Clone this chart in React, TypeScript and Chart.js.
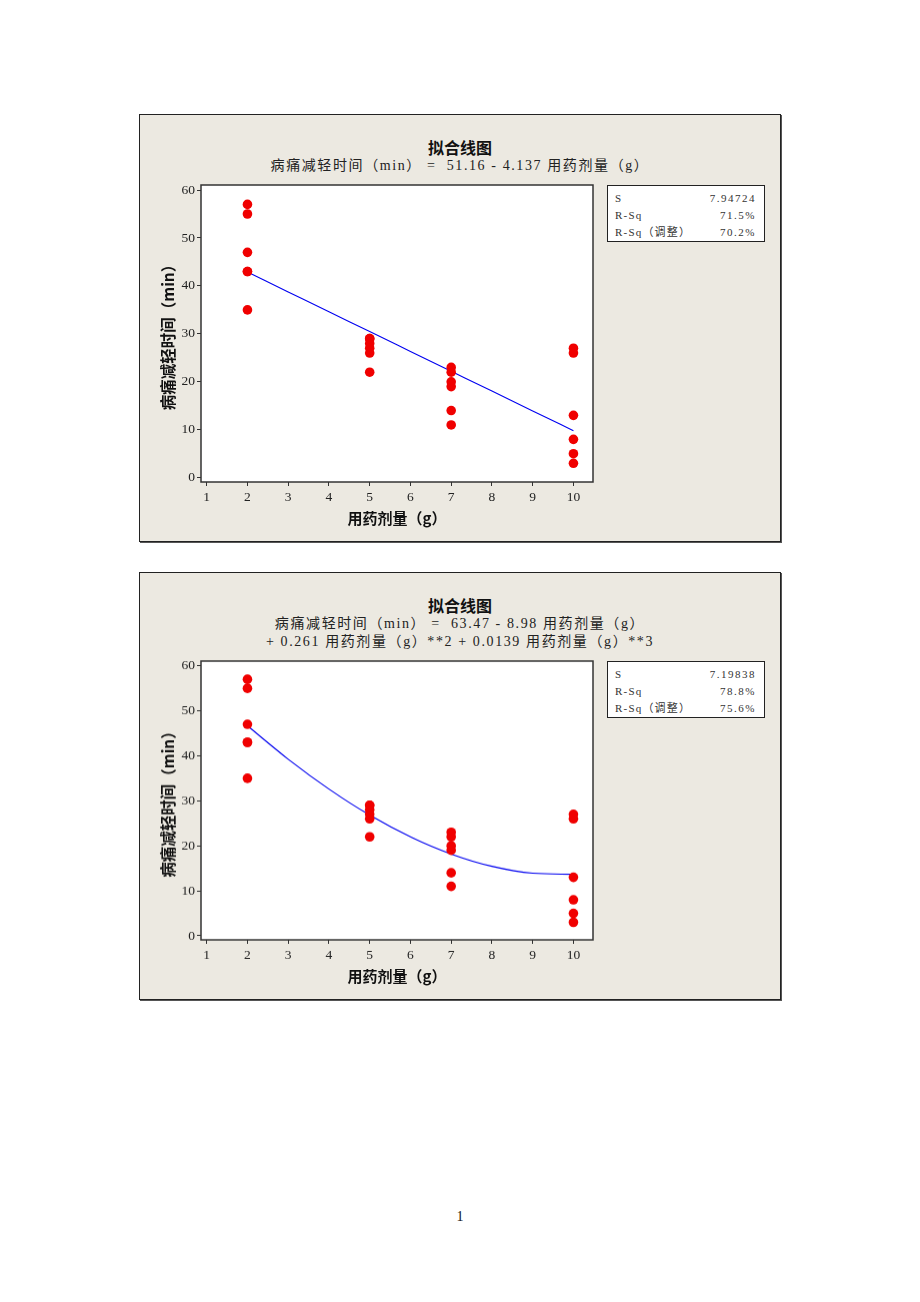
import React, { useEffect, useRef } from "react";
import { Chart, registerables } from "chart.js";

Chart.register(...registerables);

// ---- data ----
const doseLevels = [2, 2, 2, 2, 2, 2, 5, 5, 5, 5, 5, 5, 7, 7, 7, 7, 7, 7, 10, 10, 10, 10, 10, 10];
const reliefMinutes = [57, 55, 47, 43, 43, 35, 29, 29, 28, 27, 26, 22, 23, 22, 20, 19, 14, 11, 27, 26, 13, 8, 5, 3];

const fitDoses = [2, 3, 4, 5, 6, 7, 8, 9, 10];
const linearFitMinutes = [42.89, 38.75, 34.61, 30.48, 26.34, 22.2, 18.06, 13.93, 9.79];
const cubicFitMinutes = [46.67, 39.25, 32.62, 26.83, 21.99, 18.17, 15.45, 13.92, 13.67];

const xTickValues = [1, 2, 3, 4, 5, 6, 7, 8, 9, 10];
const yTickValues = [0, 10, 20, 30, 40, 50, 60];

const chartTitle = "拟合线图";
const xAxisTitle = "用药剂量（g）";
const yAxisTitle = "病痛减轻时间（min）";
const linearEquation = ["病痛减轻时间（min） =  51.16 - 4.137 用药剂量（g）"];
const cubicEquation = [
  "病痛减轻时间（min） =  63.47 - 8.98 用药剂量（g）",
  "+ 0.261 用药剂量（g）**2 + 0.0139 用药剂量（g）**3",
];
const statLabels = ["S", "R-Sq", "R-Sq（调整）"];
const linearStatValues = ["7.94724", "71.5%", "70.2%"];
const cubicStatValues = ["7.19838", "78.8%", "75.6%"];
const pageNumber = "1";

const SERIF = '"Liberation Serif", "Noto Sans CJK SC", serif';
const CJK = '"Noto Sans CJK SC", sans-serif';

const plotFrame = {
  id: "plotFrame",
  beforeDraw(chart: any) {
    const { ctx, chartArea: a } = chart;
    ctx.save();
    ctx.fillStyle = "#ffffff";
    ctx.fillRect(a.left, a.top, a.right - a.left, a.bottom - a.top);
    ctx.restore();
  },
  afterDraw(chart: any) {
    const { ctx, chartArea: a } = chart;
    ctx.save();
    ctx.strokeStyle = "#333333";
    ctx.lineWidth = 1.5;
    ctx.strokeRect(a.left, a.top, a.right - a.left, a.bottom - a.top);
    ctx.restore();
  },
};

type PanelProps = {
  top: number;
  equation: string[];
  statValues: string[];
  fitValues: number[];
  plotTop: number; // relative to inner box
};

function FitPanel({ top, equation, statValues, fitValues, plotTop }: PanelProps) {
  const canvasRef = useRef<HTMLCanvasElement | null>(null);
  const plotBottom = 367;
  const canvasTop = plotTop - 15;
  const canvasHeight = plotBottom + 48 - canvasTop;

  useEffect(() => {
    if (!canvasRef.current) return;
    const points = doseLevels.map((x, i) => ({ x, y: reliefMinutes[i] }));
    const fit = fitDoses.map((x, i) => ({ x, y: fitValues[i] }));
    const chart = new Chart(canvasRef.current, {
      type: "scatter",
      data: {
        datasets: [
          {
            data: points,
            backgroundColor: "rgb(240,0,0)",
            borderColor: "rgb(240,0,0)",
            pointRadius: 4.8,
            pointHoverRadius: 4.8,
            borderWidth: 0,
            order: 0,
          },
          {
            data: fit,
            showLine: true,
            borderColor: "rgb(0,0,240)",
            borderWidth: 1.1,
            pointRadius: 0,
            cubicInterpolationMode: "monotone",
            order: 1,
          } as any,
        ],
      },
      options: {
        responsive: false,
        animation: false,
        events: [],
        layout: { padding: { top: 15, right: 7, left: 0, bottom: 0 } },
        plugins: { legend: { display: false }, tooltip: { enabled: false } },
        scales: {
          x: {
            type: "linear",
            min: 0.86,
            max: 10.48,
            afterBuildTicks: (axis: any) => {
              axis.ticks = xTickValues.map((v) => ({ value: v }));
            },
            afterFit: (scale: any) => {
              scale.height = 48;
            },
            grid: { drawOnChartArea: false, drawTicks: true, tickLength: 4, color: "#333" },
            border: { display: false },
            ticks: {
              autoSkip: false,
              maxRotation: 0,
              padding: 3,
              color: "#222",
              font: { family: SERIF, size: 13.5 },
              callback: (v: any) => String(v),
            },
            title: {
              display: true,
              text: xAxisTitle,
              color: "#111",
              font: { family: CJK, size: 15, weight: "bold" },
              padding: { top: 0, bottom: 3 },
            },
          },
          y: {
            type: "linear",
            min: -0.9,
            max: 61.05,
            afterBuildTicks: (axis: any) => {
              axis.ticks = yTickValues.map((v) => ({ value: v }));
            },
            afterFit: (scale: any) => {
              scale.width = 46;
            },
            grid: { drawOnChartArea: false, drawTicks: true, tickLength: 4, color: "#333" },
            border: { display: false },
            ticks: {
              autoSkip: false,
              padding: 2,
              color: "#222",
              font: { family: SERIF, size: 13.5 },
              callback: (v: any) => String(v),
            },
            title: {
              display: true,
              text: yAxisTitle,
              color: "#111",
              font: { family: CJK, size: 15.5, weight: "bold" },
              padding: { top: 3.7, bottom: 0 },
            },
          },
        },
      },
      plugins: [plotFrame],
    });
    return () => chart.destroy();
  }, [fitValues]);

  return (
    <div
      style={{
        position: "absolute",
        left: 139,
        top,
        width: 642,
        height: 428,
        boxSizing: "border-box",
        border: "1px solid #222",
        boxShadow: "1px 1px 0 #555",
        background: "#ECE9E1",
      }}
    >
      <div
        style={{
          position: "absolute",
          left: 0,
          width: 640,
          top: 22,
          lineHeight: "20px",
          textAlign: "center",
          fontFamily: CJK,
          fontWeight: "bold",
          fontSize: 16,
          color: "#111",
        }}
      >
        {chartTitle}
      </div>
      {equation.map((line, i) => (
        <div
          key={i}
          style={{
            position: "absolute",
            left: 0,
            width: 640,
            top: 41.7 + i * 18.3,
            lineHeight: "18px",
            textAlign: "center",
            fontFamily: SERIF,
            fontSize: 14,
            letterSpacing: "1.6px",
            whiteSpace: "pre",
            color: "#222",
          }}
        >
          {line}
        </div>
      ))}
      <canvas
        ref={canvasRef}
        width={445}
        height={canvasHeight}
        style={{ position: "absolute", left: 15, top: canvasTop, width: 445, height: canvasHeight }}
      />
      <div
        style={{
          position: "absolute",
          left: 467,
          top: plotTop,
          width: 158,
          height: 57,
          boxSizing: "border-box",
          border: "1.5px solid #222",
          background: "#ffffff",
          fontFamily: SERIF,
          fontSize: 11,
          color: "#333",
        }}
      >
        {statLabels.map((label, i) => (
          <div
            key={i}
            style={{
              position: "absolute",
              left: 7,
              right: 8,
              top: 4 + i * 17,
              lineHeight: "17px",
              height: 17,
            }}
          >
            <span style={{ position: "absolute", left: 0, letterSpacing: "1.2px", whiteSpace: "pre" }}>{label}</span>
            <span style={{ position: "absolute", right: 0, letterSpacing: "1.5px" }}>{statValues[i]}</span>
          </div>
        ))}
      </div>
    </div>
  );
}

export default function App() {
  return (
    <div style={{ position: "absolute", left: 0, top: 0, width: 920, height: 1302, background: "#ffffff" }}>
      <FitPanel top={114} equation={linearEquation} statValues={linearStatValues} fitValues={linearFitMinutes} plotTop={70} />
      <FitPanel top={572} equation={cubicEquation} statValues={cubicStatValues} fitValues={cubicFitMinutes} plotTop={88.3} />
      <div
        style={{
          position: "absolute",
          left: 440,
          width: 40,
          top: 1208,
          lineHeight: "18px",
          textAlign: "center",
          fontFamily: SERIF,
          fontSize: 14,
          color: "#111",
        }}
      >
        {pageNumber}
      </div>
    </div>
  );
}
